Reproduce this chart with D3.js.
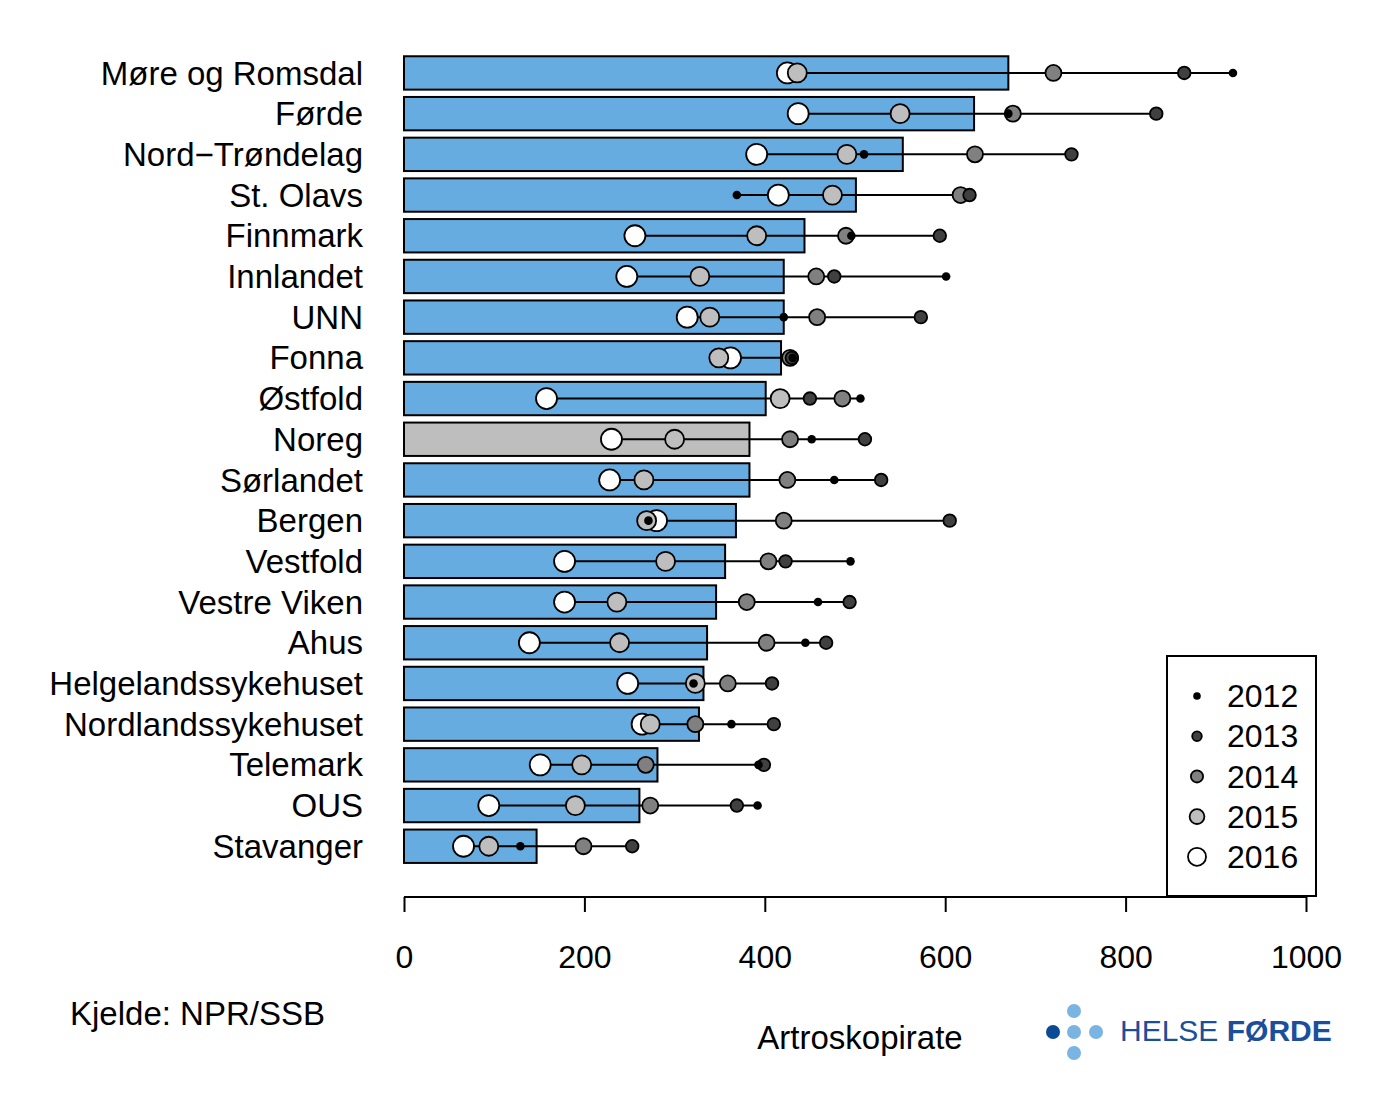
<!DOCTYPE html>
<html><head><meta charset="utf-8">
<script src="https://cdn.jsdelivr.net/npm/d3@7"></script>
<style>body{margin:0;background:#fff}svg{display:block}text{font-family:"Liberation Sans",Arial,sans-serif}</style>
</head><body>
<script>
const categories = ["Møre og Romsdal","Førde","Nord\u2212Trøndelag","St. Olavs","Finnmark","Innlandet","UNN","Fonna","Østfold","Noreg","Sørlandet","Bergen","Vestfold","Vestre Viken","Ahus","Helgelandssykehuset","Nordlandssykehuset","Telemark","OUS","Stavanger"];
const barValues = [670,632,553,501,444,421,421,418,401,383,383,368,356,346,336,332,327,281,261,147];
const v2012 = [919,670,510,369,496,601,421,431,506,452,477,271,495,459,445,321,363,393,392,129];
const v2013 = [865,834,740,627,594,477,573,430,450,511,529,605,423,494,468,408,410,399,369,253];
const v2014 = [720,675,633,617,490,457,458,428,486,428,425,421,404,380,402,359,323,268,273,199];
const v2015 = [436,550,491,475,391,328,339,349,417,300,266,269,290,236,239,323,273,197,190,94];
const v2016 = [425,437,391,415,256,247,314,362,158,230,228,280,178,178,139,248,264,151,94,66];
const years = ["2012","2013","2014","2015","2016"];
const yearValues = [v2012,v2013,v2014,v2015,v2016];
const yearFill = ["#000000","#404040","#808080","#bebebe","#ffffff"];
const yearR = [4.3,6.3,8,9.5,10.5];
const legendR = [3.8,4.8,6.1,7.4,9];
const xTicks = [0,200,400,600,800,1000];
const highlight = "Noreg";

const W=1400,H=1100;
const svg=d3.select("body").append("svg").attr("width",W).attr("height",H);
const x=d3.scaleLinear().domain([0,1000]).range([404,1306]);
const y=d3.scaleBand().domain(categories).range([52.6,866.6]).paddingInner(0.18).paddingOuter(0.09);
const bw=y.bandwidth();
const cy=d=>y(d)+bw/2;

// bars
svg.append("g").selectAll("rect").data(categories).join("rect")
  .attr("x",x(0)).attr("y",d=>y(d)).attr("width",(d,i)=>x(barValues[i])-x(0)).attr("height",bw)
  .attr("fill",d=>d===highlight?"#bebebe":"#66ace0").attr("stroke","#000").attr("stroke-width",2);

// segments
svg.append("g").selectAll("line").data(categories).join("line")
  .attr("x1",(d,i)=>x(d3.min(yearValues,v=>v[i]))).attr("x2",(d,i)=>x(d3.max(yearValues,v=>v[i])))
  .attr("y1",cy).attr("y2",cy).attr("stroke","#000").attr("stroke-width",2);

// points (2016 first so smaller on top)
for(let k=4;k>=0;k--){
  svg.append("g").selectAll("circle").data(categories).join("circle")
    .attr("cx",(d,i)=>x(yearValues[k][i])).attr("cy",cy).attr("r",yearR[k])
    .attr("fill",yearFill[k]).attr("stroke","#000").attr("stroke-width",k===0?0:1.8);
}

// category labels
svg.append("g").selectAll("text").data(categories).join("text")
  .attr("x",363).attr("y",cy).attr("dy","0.35em").attr("text-anchor","end")
  .attr("font-size",33).text(d=>d);

// axis
const ax=svg.append("g").attr("transform","translate(0,897)")
  .call(d3.axisBottom(x).tickValues(xTicks).tickSize(15).tickPadding(33).tickFormat(d3.format("d")));
ax.select(".domain").attr("stroke-width",2).attr("d",`M${x(0)},0H${x(1000)}`);
ax.selectAll(".tick line").attr("stroke-width",2);
ax.selectAll(".tick text").attr("font-size",32).attr("font-family","Liberation Sans, Arial, sans-serif").attr("fill","#000");

// legend
const lg=svg.append("g");
lg.append("rect").attr("x",1167).attr("y",656).attr("width",149).attr("height",240).attr("fill","none").attr("stroke","#000").attr("stroke-width",2);
years.forEach((yr,k)=>{
  const ly=696+k*40.2;
  lg.append("circle").attr("cx",1197).attr("cy",ly).attr("r",legendR[k]).attr("fill",yearFill[k]).attr("stroke","#000").attr("stroke-width",k===0?0:1.8);
  lg.append("text").attr("x",1227).attr("y",ly).attr("dy","0.35em").attr("font-size",32).text(yr);
});

// footer texts
svg.append("text").attr("x",70).attr("y",1013).attr("dy","0.35em").attr("font-size",33).text("Kjelde: NPR/SSB");
svg.append("text").attr("x",860).attr("y",1037).attr("dy","0.35em").attr("text-anchor","middle").attr("font-size",33).text("Artroskopirate");

// logo
const logo=svg.append("g");
const logoDots=[[1053,1032,"#0b4a94"],[1074,1011,"#7ab4e2"],[1074,1032,"#7ab4e2"],[1096,1032,"#7ab4e2"],[1074,1053,"#7ab4e2"]];
logo.selectAll("circle").data(logoDots).join("circle").attr("cx",d=>d[0]).attr("cy",d=>d[1]).attr("r",7).attr("fill",d=>d[2]);
const lt=logo.append("text").attr("x",1120).attr("y",1030).attr("dy","0.36em").attr("font-size",30).attr("fill","#1a4f9c").attr("font-family","'Open Sans','DejaVu Sans',sans-serif");
lt.append("tspan").attr("font-weight",400).text("HELSE ");
lt.append("tspan").attr("font-weight",700).text("FØRDE");
</script>
</body></html>
